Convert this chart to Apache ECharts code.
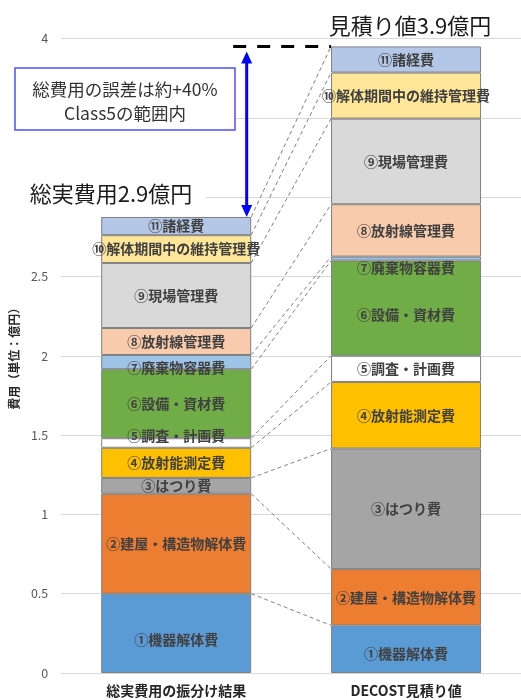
<!DOCTYPE html>
<html>
<head>
<meta charset="utf-8">
<script src="https://cdn.jsdelivr.net/npm/echarts@6/dist/echarts.min.js"></script>
<style>
html,body{margin:0;padding:0;background:#fff;}
#chart{width:521px;height:700px;}
</style>
</head>
<body>
<div id="chart"></div>
<script>
// ---- data ----
const categories = ['総実費用の振分け結果', 'DECOST見積り値'];
const itemNames = ['①機器解体費', '②建屋・構造物解体費', '③はつり費', '④放射能測定費', '⑤調査・計画費',
  '⑥設備・資材費', '⑦廃棄物容器費', '⑧放射線管理費', '⑨現場管理費', '⑩解体期間中の維持管理費', '⑪諸経費'];
const actualValues = [0.50, 0.63, 0.10, 0.19, 0.06, 0.435, 0.09, 0.17, 0.41, 0.175, 0.115];
const estimateValues = [0.30, 0.355, 0.76, 0.42, 0.165, 0.60, 0.025, 0.33, 0.54, 0.29, 0.165];
const yTicks = [0, 0.5, 1, 1.5, 2, 2.5, 3, 3.5, 4];
const estimateTitle = '見積り値3.9億円';
const actualTitle = '総実費用2.9億円';
const noteLines = ['総費用の誤差は約+40%', 'Class5の範囲内'];
const yAxisName = '費用（単位：億円）';

// ---- styles ----
const colors = ['#5b9bd5', '#ed7d31', '#a5a5a5', '#ffc000', '#ffffff', '#70ad47', '#9dc3e6', '#f8cbad', '#d9d9d9', '#ffe699', '#b4c7e7'];
const labelOffsets = { // [series index]: [leftOffsetY, rightOffsetY]
  0: [6, 4], 4: [-7, 0], 5: [0, 7], 6: [6, 9]
};
const BAR_W = 150;
const FONT = '"Noto Sans CJK JP", "Noto Sans", sans-serif';

// cumulative tops
const cumL = [], cumR = [];
actualValues.reduce((a, v, i) => (cumL[i] = +(a + v).toFixed(4)), 0);
estimateValues.reduce((a, v, i) => (cumR[i] = +(a + v).toFixed(4)), 0);
const totalL = cumL[cumL.length - 1], totalR = cumR[cumR.length - 1];

const chart = echarts.init(document.getElementById('chart'));

const barSeries = itemNames.map((name, i) => {
  const off = labelOffsets[i] || [0, 0];
  return {
    name: name,
    type: 'bar',
    stack: 'total',
    barWidth: BAR_W,
    itemStyle: { color: colors[i], borderColor: '#7f7f7f', borderWidth: 1 },
    label: {
      show: true, position: 'inside', formatter: '{a}',
      color: '#404040', fontSize: 14, fontWeight: 'bold', fontFamily: FONT
    },
    data: [actualValues[i], estimateValues[i]].map((v, j) => ({
      value: v, label: { offset: [0, off[j]] }
    })),
    z: 2
  };
});

const connectorSeries = {
  type: 'custom',
  renderItem: function (params, api) {
    const p1 = api.coord([0, api.value(1)]);
    const p2 = api.coord([1, api.value(2)]);
    return {
      type: 'line',
      shape: { x1: p1[0] + BAR_W / 2, y1: p1[1], x2: p2[0] - BAR_W / 2, y2: p2[1] },
      style: { stroke: '#808080', lineWidth: 1, lineDash: [4, 3] }
    };
  },
  encode: { x: 0, y: 1 },
  data: cumL.map((v, i) => [0, v, cumR[i]]),
  z: 3, silent: true
};

const annotationSeries = {
  type: 'custom',
  renderItem: function (params, api) {
    const pl = api.coord([0, api.value(1)]);
    const pr = api.coord([1, api.value(2)]);
    const rightBarLeft = pr[0] - BAR_W / 2;
    const leftBarRight = pl[0] + BAR_W / 2;
    const ax = leftBarRight - 4.5;
    const yTop = pr[1];
    const tipTop = yTop + 5;
    const tipBot = pl[1];
    const head = 12, hw = 5.5;
    return {
      type: 'group',
      children: [
        { type: 'line', shape: { x1: leftBarRight - 18, y1: yTop, x2: rightBarLeft, y2: yTop },
          style: { stroke: '#000', lineWidth: 3, lineDash: [13, 11] } },
        { type: 'line', shape: { x1: ax, y1: tipTop + head - 1, x2: ax, y2: tipBot - head + 1 },
          style: { stroke: '#0000ff', lineWidth: 3 } },
        { type: 'polygon', shape: { points: [[ax, tipTop], [ax - hw, tipTop + head], [ax + hw, tipTop + head]] },
          style: { fill: '#0000ff' } },
        { type: 'polygon', shape: { points: [[ax, tipBot], [ax - hw, tipBot - head], [ax + hw, tipBot - head]] },
          style: { fill: '#0000ff' } }
      ]
    };
  },
  encode: { x: 0, y: 1 },
  data: [[0, totalL, totalR]],
  z: 5, silent: true
};

const option = {
  animation: false,
  backgroundColor: '#fff',
  grid: { left: 61, right: 0, top: 38.5, bottom: 27, containLabel: false },
  xAxis: {
    type: 'category',
    data: categories,
    axisLine: { show: true, lineStyle: { color: '#d9d9d9', width: 1 } },
    axisTick: { show: false },
    axisLabel: { color: '#262626', fontSize: 14, fontWeight: 'bold', fontFamily: FONT, margin: 11 }
  },
  yAxis: {
    type: 'value',
    min: yTicks[0], max: yTicks[yTicks.length - 1], interval: yTicks[1] - yTicks[0],
    name: yAxisName, nameLocation: 'middle', nameGap: 36, nameRotate: 90,
    nameTextStyle: { color: '#262626', fontSize: 12, fontWeight: 'bold', fontFamily: FONT },
    axisLine: { show: false },
    axisTick: { show: false },
    axisLabel: { color: '#595959', fontSize: 12.5, fontFamily: FONT, margin: 13 },
    splitLine: { lineStyle: { color: '#d9d9d9', width: 1 } }
  },
  series: barSeries.concat([connectorSeries, annotationSeries]),
  graphic: [
    { type: 'rect', z: 100, shape: { x: 15, y: 68, width: 220, height: 62 },
      style: { fill: '#fff', stroke: '#4f4fff', lineWidth: 1.5 } },
    { type: 'text', z: 101, x: 125, y: 89,
      style: { text: noteLines[0], fill: '#333', fontSize: 17.5, fontFamily: FONT, align: 'center', verticalAlign: 'middle' } },
    { type: 'text', z: 101, x: 125, y: 113,
      style: { text: noteLines[1], fill: '#333', fontSize: 17.5, fontFamily: FONT, align: 'center', verticalAlign: 'middle' } },
    { type: 'rect', z: 100, shape: { x: 22, y: 182, width: 184, height: 24 }, style: { fill: '#fff' } },
    { type: 'text', z: 101, x: 111, y: 194,
      style: { text: actualTitle, fill: '#1a1a1a', fontSize: 22, fontFamily: FONT, align: 'center', verticalAlign: 'middle' } },
    { type: 'text', z: 101, x: 410, y: 26,
      style: { text: estimateTitle, fill: '#1a1a1a', fontSize: 22, fontFamily: FONT, align: 'center', verticalAlign: 'middle' } }
  ]
};
chart.setOption(option);
</script>
</body>
</html>
